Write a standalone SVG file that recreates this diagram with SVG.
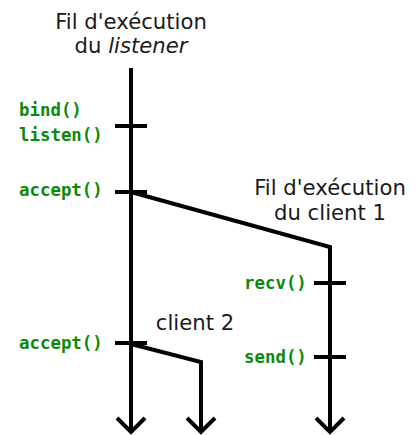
<svg xmlns="http://www.w3.org/2000/svg" width="418" height="435" viewBox="0 0 418 435">
<style>
.ln{stroke:#000;stroke-width:4;fill:none}
.t{font-family:"DejaVu Sans","Liberation Sans",sans-serif;font-size:21.2px;fill:#1a1a1a;text-anchor:middle}
.c{font-family:"DejaVu Sans Mono","Liberation Mono",monospace;font-weight:bold;font-size:17.4px;fill:#0a8a0a}
</style>
<g id="connectors">
<path class="ln" d="M131,68 V431"/>
<path class="ln" d="M117,418 L131,432 L145,418"/>
<path class="ln" d="M131,192 L330,247 V431"/>
<path class="ln" d="M316,418 L330,432 L344,418"/>
<path class="ln" d="M131,344 L201,362 V431"/>
<path class="ln" d="M187,418 L201,432 L215,418"/>
</g>
<g id="listener">
<text class="t" x="131" y="29">Fil d'exécution</text>
<text class="t" x="131" y="53">du <tspan font-style="italic">listener</tspan></text>
</g>
<g id="bind-listen">
<path class="ln" d="M115,126 H147"/>
<text class="c" x="19" y="116">bind()</text>
<text class="c" x="19" y="141">listen()</text>
</g>
<g id="accept1">
<path class="ln" d="M115,192 H147"/>
<text class="c" x="19" y="196">accept()</text>
</g>
<g id="client1">
<text class="t" x="330" y="195">Fil d'exécution</text>
<text class="t" x="330" y="220">du client 1</text>
</g>
<g id="recv">
<path class="ln" d="M314,283 H346"/>
<text class="c" x="244" y="289">recv()</text>
</g>
<g id="send">
<path class="ln" d="M314,357 H346"/>
<text class="c" x="244" y="363">send()</text>
</g>
<g id="accept2">
<path class="ln" d="M115,343 H147"/>
<text class="c" x="19" y="349">accept()</text>
</g>
<g id="client2">
<text class="t" x="195" y="330">client 2</text>
</g>
</svg>
